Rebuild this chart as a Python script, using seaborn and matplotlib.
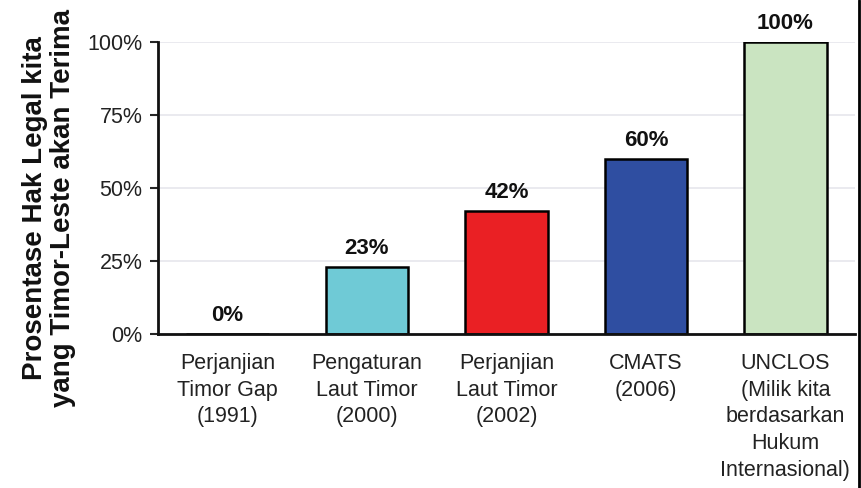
import numpy as np
import pandas as pd
import matplotlib
matplotlib.use('Agg')
import matplotlib.pyplot as plt
import seaborn as sns
from matplotlib.lines import Line2D

# dados
kategori = ['Perjanjian\nTimor Gap\n(1991)',
            'Pengaturan\nLaut Timor\n(2000)',
            'Perjanjian\nLaut Timor\n(2002)',
            'CMATS\n(2006)',
            'UNCLOS\n(Milik kita\nberdasarkan\nHukum\nInternasional)']
persen = [0, 23, 42, 60, 100]
warna = ['#FFFFFF', '#6FCAD6', '#EA2024', '#2F4EA1', '#CAE4C1']

df = pd.DataFrame({'kategori': kategori, 'persen': persen})

sns.set_style('white')
plt.rcParams['font.family'] = ['Liberation Sans', 'DejaVu Sans']

fig, ax = plt.subplots(figsize=(8.62, 4.88), dpi=100)
fig.subplots_adjust(left=0.183, right=0.992, bottom=0.316, top=0.914)

sns.barplot(data=df, x='kategori', y='persen', hue='kategori', palette=warna,
            saturation=1, width=0.59, edgecolor='black', linewidth=1.8,
            legend=False, ax=ax)

# label nilai
for i, v in enumerate(persen):
    ax.text(i, v + 2.8, f'{v}%', ha='center', va='bottom', fontsize=16,
            fontweight='bold', color='#111111')

ax.set_ylim(0, 100)
ax.set_xlim(-0.5, 4.5)
ax.set_yticks([0, 25, 50, 75, 100])
ax.set_yticklabels(['0%', '25%', '50%', '75%', '100%'], fontsize=15.5, color='#222222')
ax.yaxis.grid(True, color='#E6E6EC', linewidth=1.2)
ax.set_axisbelow(True)

ax.set_xticks(range(5))
ax.set_xticklabels(kategori, fontsize=15.5, color='#222222', linespacing=1.35)
ax.tick_params(axis='x', length=0, pad=14)
ax.set_xticks(np.arange(-0.5, 4.6, 1), minor=True)
ax.tick_params(axis='x', which='minor', length=6, width=1, color='#999999', direction='out')
ax.tick_params(axis='y', length=6, width=1.5, direction='out', left=True, pad=5)

for s in ['top', 'right']:
    ax.spines[s].set_visible(False)
ax.spines['left'].set_linewidth(2)
ax.spines['bottom'].set_linewidth(2)
ax.spines['left'].set_color('#111111')
ax.spines['bottom'].set_color('#111111')

ax.set_xlabel('')
ax.set_ylabel('Prosentase Hak Legal kita\nyang Timor-Leste akan Terima',
              fontsize=20, fontweight='bold', color='#111111', linespacing=1.1)
ax.yaxis.set_label_coords(-0.117, 0.43)

# garis tepi kanan
fig.add_artist(Line2D([0.996, 0.996], [0, 1], color='black', linewidth=2,
                      transform=fig.transFigure))

plt.savefig('out.png', dpi=100)
